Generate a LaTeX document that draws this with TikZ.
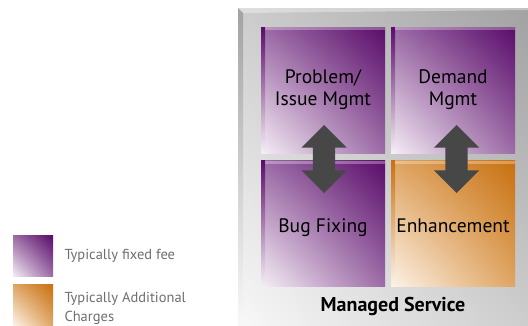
\documentclass[tikz,border=0pt]{standalone}
\usepackage{fontspec}
\setmainfont{PT Sans}
\usetikzlibrary{shapes.arrows, shadings}

\definecolor{purpdark}{HTML}{5A0C6A}
\definecolor{purpmid}{HTML}{9C6CA6}
\definecolor{purplight}{HTML}{F6EEF6}
\definecolor{orngdark}{HTML}{C8700F}
\definecolor{orngmid}{HTML}{DFA563}
\definecolor{ornglight}{HTML}{FDF3E8}
\definecolor{greydark}{HTML}{A2A2A2}
\definecolor{greymid}{HTML}{CDCDCD}
\definecolor{greylight}{HTML}{F8F8F8}
\definecolor{arrowgrey}{HTML}{474747}
\definecolor{legendtext}{HTML}{6E6E6E}

\tikzset{
  tile/.style={minimum width=124pt, minimum height=126pt, inner sep=0pt,
    align=center, font=\fontsize{19.5}{22}\selectfont, text=black},
  purptile/.style={tile, upper right=purpdark, lower left=purplight,
    upper left=purpmid, lower right=purpmid,
    path picture={
      \shade[top color=purpdark, bottom color=purplight]
        (path picture bounding box.south west) rectangle
        ([xshift=4pt]path picture bounding box.north west);
      \fill[white, opacity=0.3] ([xshift=4pt]path picture bounding box.north west)
        rectangle ([yshift=-3pt]path picture bounding box.north east);}},
  orngtile/.style={tile, upper right=orngdark, lower left=ornglight,
    upper left=orngmid, lower right=orngmid,
    path picture={
      \shade[top color=orngdark, bottom color=ornglight]
        (path picture bounding box.south west) rectangle
        ([xshift=4pt]path picture bounding box.north west);
      \fill[white, opacity=0.3] ([xshift=4pt]path picture bounding box.north west)
        rectangle ([yshift=-3pt]path picture bounding box.north east);}},
  swatch/.style={minimum width=40pt, minimum height=41pt, inner sep=0pt},
  bigarrow/.style={double arrow, fill=arrowgrey, draw=none, rotate=90,
    minimum height=68pt, inner xsep=0pt, inner ysep=11pt,
    double arrow head extend=11.5pt, double arrow tip angle=90},
  legend/.style={anchor=west, align=left, text=legendtext,
    font=\fontsize{14.5}{19}\selectfont}
}

\begin{document}
\begin{tikzpicture}[x=1pt, y=1pt]
\useasboundingbox (0,0) rectangle (528,325);

%panel
\shade[upper right=greydark, lower left=greylight, upper left=greymid, lower right=greymid]
  (238,0) rectangle (528,317);
\shade[top color=greydark, bottom color=greylight] (238,0) -- (238,317) -- (243,312) -- (243,0) -- cycle;
\fill[white, opacity=0.35] (238,317) -- (528,317) -- (528,315) -- (243,312) -- cycle;

%tiles
\node[purptile] (probmgmt) at (323,235) {Problem/\\Issue Mgmt};
\node[purptile] (demmgmt) at (453,235) {Demand\\Mgmt};
\node[purptile, text height=21.6pt, text depth=4pt] (bugfix) at (323,101.5) {Bug Fixing};
\node[orngtile, text height=22.6pt, text depth=4pt] (enhance) at (453,101.5) {Enhancement};

%arrows
\node[bigarrow] (leftarr) at (324,166) {};
\node[bigarrow] (rightarr) at (456.5,166) {};

\node[font=\bfseries\fontsize{20}{24}\selectfont] (managed) at (393,19) {Managed Service};

%legend
\node[swatch, upper right=purpdark, lower left=purplight, upper left=purpmid, lower right=purpmid]
  (fixedsw) at (33,69) {};
\node[swatch, upper right=orngdark, lower left=ornglight, upper left=orngmid, lower right=orngmid]
  (extrasw) at (33,20.5) {};
\node[legend] (fixedtxt) at (61,69) {Typically fixed fee};
\node[legend] (extratxt) at (61,17) {Typically Additional\\Charges};
\end{tikzpicture}
\end{document}
